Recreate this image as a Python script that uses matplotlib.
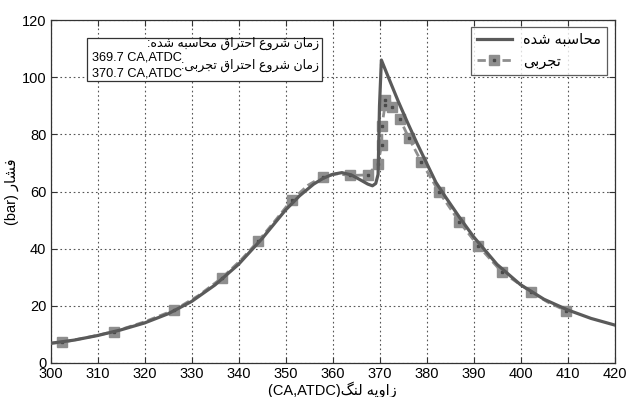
import matplotlib
matplotlib.use("Agg")
import matplotlib.pyplot as plt
from matplotlib.patches import Rectangle

plt.rcParams["font.family"] = ["Liberation Sans", "DejaVu Sans"]

# calculated pressure (solid)
calc_deg = [300, 305, 310, 315, 320, 325, 330, 335, 340, 345, 350, 353, 356,
            358, 360, 362, 364, 366, 367.5, 368.5, 369.2, 369.7, 370.0, 370.4,
            372, 374, 376, 378, 380, 382, 384, 387, 390, 395, 400, 405, 410,
            415, 420]
calc_bar = [6.9, 8.0, 9.6, 11.6, 14.0, 17.2, 21.5, 27.3, 34.5, 43.5, 53.5,
            58.5, 62.6, 64.6, 66.0, 66.6, 65.8, 64.0, 62.6, 62.0, 62.8, 66.0,
            90.0, 106.0, 99.5, 91.5, 84.0, 76.8, 70.0, 63.2, 58.2, 51.0, 44.2,
            34.5, 27.4, 22.3, 18.6, 15.6, 13.3]

# experimental pressure (dashed, squares on the measured points)
exp_deg = [300, 302.4, 308, 313.6, 320, 326.3, 331.5, 336.5, 340.5, 344.2,
           348, 351.3, 354.8, 357.9, 361, 363.7, 367.5, 369.6, 370.5, 370.5,
           371.2, 371.2, 372.6, 374.3, 376.3, 378.9, 382.7, 387.0, 391.0,
           396.0, 402.2, 405.8, 409.7]
exp_bar = [6.9, 7.2, 9.0, 11.0, 14.4, 18.5, 23.6, 29.8, 36.0, 42.6, 50.2,
           57.0, 62.2, 65.2, 66.2, 65.6, 65.8, 69.6, 76.3, 83.0, 90.3, 92.0,
           89.7, 85.4, 78.6, 70.4, 59.8, 49.4, 41.0, 31.9, 24.9, 21.3, 18.3]
exp_marks = [1, 3, 5, 7, 9, 11, 13, 15, 16, 17, 18, 19, 20, 21, 22, 23, 24,
             25, 26, 27, 28, 29, 30, 32]

x_ticks = list(range(300, 421, 10))
y_ticks = list(range(0, 121, 20))

FORMS = {
    "ا": "\uFE8D\uFE8E", "ب": "\uFE8F\uFE90\uFE91\uFE92",
    "ت": "\uFE95\uFE96\uFE97\uFE98", "ج": "\uFE9D\uFE9E\uFE9F\uFEA0",
    "ح": "\uFEA1\uFEA2\uFEA3\uFEA4", "د": "\uFEA9\uFEAA",
    "ر": "\uFEAD\uFEAE", "ز": "\uFEAF\uFEB0",
    "س": "\uFEB1\uFEB2\uFEB3\uFEB4", "ش": "\uFEB5\uFEB6\uFEB7\uFEB8",
    "ع": "\uFEC9\uFECA\uFECB\uFECC", "ف": "\uFED1\uFED2\uFED3\uFED4",
    "ق": "\uFED5\uFED6\uFED7\uFED8", "ل": "\uFEDD\uFEDE\uFEDF\uFEE0",
    "م": "\uFEE1\uFEE2\uFEE3\uFEE4", "ن": "\uFEE5\uFEE6\uFEE7\uFEE8",
    "ه": "\uFEE9\uFEEA\uFEEB\uFEEC", "و": "\uFEED\uFEEE",
    "ی": "\uFBFC\uFBFD\uFBFE\uFBFF", "گ": "\uFB92\uFB93\uFB94\uFB95",
}


def fa(s):
    # join letters into presentation forms, then lay out right to left
    out = []
    for i, c in enumerate(s):
        if c not in FORMS:
            out.append(c)
            continue
        prev = s[i - 1] if i > 0 else ""
        nxt = s[i + 1] if i + 1 < len(s) else ""
        jp = prev in FORMS and len(FORMS[prev]) == 4
        jn = len(FORMS[c]) == 4 and nxt in FORMS
        f = FORMS[c]
        out.append(f[3] if jp and jn else f[1] if jp else f[2] if jn else f[0])
    return "".join(reversed(out))


W, H = 627, 397
fig = plt.figure(figsize=(W / 100, H / 100), dpi=100)
fig.patch.set_facecolor("white")
ax = fig.add_axes([50.5 / W, 34 / H, 564 / W, 343 / H])

ax.plot(calc_deg, calc_bar, color="#5a5a5a", lw=2.3, zorder=4,
        label=fa("محاسبه شده"))
exp_line, = ax.plot(exp_deg, exp_bar, color="#8e8e8e", lw=2.0, ls=(0, (3, 1.5)),
                    marker="s", ms=7, markevery=exp_marks, mfc="#8e8e8e",
                    mec="#8e8e8e", zorder=3)
dots, = ax.plot([exp_deg[i] for i in exp_marks], [exp_bar[i] for i in exp_marks],
                ls="none", marker="s", ms=2, color="#4a4a4a", zorder=3.5)

ax.set_xlim(300, 420)
ax.set_ylim(0, 120)
ax.set_xticks(x_ticks)
ax.set_yticks(y_ticks)
ax.tick_params(direction="in", length=4, width=0.8, top=True, right=True,
               labelsize=10.5, color="#333333", pad=3)
ax.grid(True, color="#555555", ls=(0, (1.5, 2.5)), lw=0.8)
for sp in ax.spines.values():
    sp.set_color("#333333")
    sp.set_linewidth(0.9)

ax.set_xlabel("(CA,ATDC)" + fa("زاویه لنگ"), fontsize=10.5, labelpad=0)
ax.set_ylabel("(bar) " + fa("فشار"), fontsize=10.5, labelpad=2)

handles, labels = ax.get_legend_handles_labels()
leg = ax.legend([handles[0], (exp_line, dots)], [labels[0], fa("تجربی")],
                loc="upper right", fontsize=10.5, frameon=True, fancybox=False,
                borderaxespad=0.5, handlelength=2.4)
leg.get_frame().set_edgecolor("#333333")
leg.get_frame().set_linewidth(0.9)

fig.add_artist(Rectangle((86.7 / W, 1 - 80.7 / H), 235 / W, 43 / H,
                         transform=fig.transFigure, facecolor="white",
                         edgecolor="#333333", lw=0.9, zorder=2))
fig.text(319 / W, 1 - 43 / H, fa("زمان شروع احتراق محاسبه شده:"),
         ha="right", va="center", fontsize=9, zorder=3)
fig.text(92 / W, 1 - 57 / H, "369.7 CA,ATDC", ha="left", va="center",
         fontsize=9.2, zorder=3)
fig.text(319 / W, 1 - 65 / H, fa("زمان شروع احتراق تجربی:"),
         ha="right", va="center", fontsize=9, zorder=3)
fig.text(92 / W, 1 - 74 / H, "370.7 CA,ATDC", ha="left", va="center",
         fontsize=9.2, zorder=3)

fig.savefig("out.png", dpi=100, facecolor="white")
